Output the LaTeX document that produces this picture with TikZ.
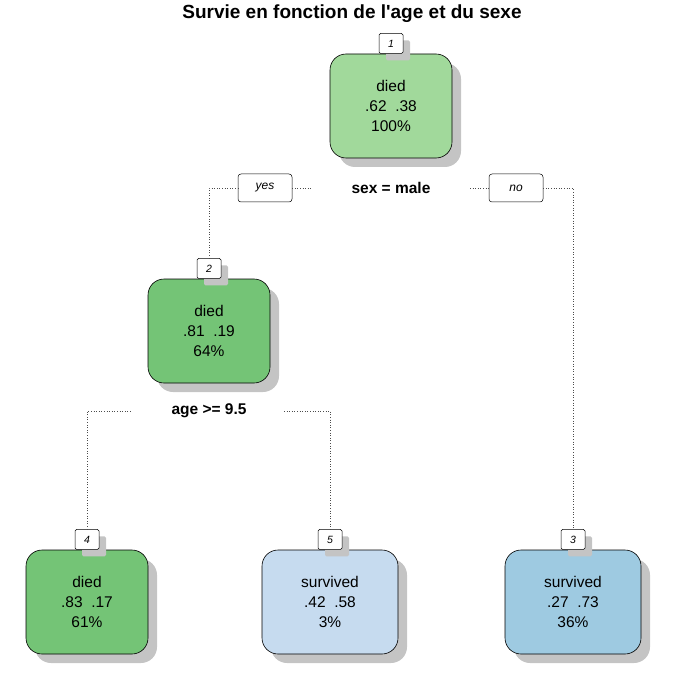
\documentclass[tikz,border=0pt]{standalone}
\usepackage{fontspec}
\setmainfont{Liberation Sans}
\usetikzlibrary{shadows}

\definecolor{gLight}{HTML}{A1D99B}
\definecolor{gDark}{HTML}{74C476}
\definecolor{bLight}{HTML}{C6DBEF}
\definecolor{bMid}{HTML}{9ECAE1}

\tikzset{
  leaf/.style={draw, line width=0.6pt, rounded corners=16pt, minimum width=122pt,
    minimum height=104pt, align=center, font=\fontsize{15.5}{20}\selectfont,
    drop shadow={shadow xshift=9pt, shadow yshift=-9pt, fill=black!23, opacity=1}},
  numbox/.style={draw, fill=white, line width=0.5pt, rounded corners=1.5pt, minimum width=24pt,
    minimum height=20pt, inner sep=0pt, font=\fontsize{10.5}{11}\selectfont\itshape,
    drop shadow={shadow xshift=7pt, shadow yshift=-7pt, fill=black!23, opacity=1}},
  ansbox/.style={draw, fill=white, line width=0.5pt, rounded corners=3pt, minimum width=54pt,
    minimum height=28pt, inner sep=0pt, font=\fontsize{12}{13}\selectfont\itshape},
  split/.style={font=\fontsize{15.5}{17}\selectfont\bfseries},
  branch/.style={draw=black!70, line width=0.6pt, dotted}
}

\begin{document}
\begin{tikzpicture}[x=1pt, y=-1pt]
  \useasboundingbox (0,0) rectangle (674,676);

  % titre
  \node[font=\fontsize{19}{21}\selectfont\bfseries] (titre) at (352,14) {Survie en fonction de l\textquotesingle age et du sexe};

  % noeuds
  \node[leaf, fill=gLight] (n1) at (391,106) {died\\.62\ \ .38\\100\%};
  \node[leaf, fill=gDark] (n2) at (209,331) {died\\.81\ \ .19\\64\%};
  \node[leaf, fill=gDark] (n4) at (87,602) {died\\.83\ \ .17\\61\%};
  \node[leaf, fill=bLight, minimum width=136pt] (n5) at (330,602) {survived\\.42\ \ .58\\3\%};
  \node[leaf, fill=bMid, minimum width=136pt] (n3) at (573,602) {survived\\.27\ \ .73\\36\%};

  % numeros
  \node[numbox, anchor=south] (l1) at (n1.north) {1};
  \node[numbox, anchor=south] (l2) at (n2.north) {2};
  \node[numbox, anchor=south] (l4) at (n4.north) {4};
  \node[numbox, anchor=south] (l5) at (n5.north) {5};
  \node[numbox, anchor=south] (l3) at (n3.north) {3};

  % separations
  \node[split] (s1) at (391,188) {sex = male};
  \node[split] (s2) at (209,411) {age >= 9.5};
  \node[ansbox] (yes) at (265,188) {yes};
  \node[ansbox] (no) at (516,188) {no};

  % branches
  \coordinate (y1) at (312,188);
  \coordinate (o1) at (470,188);
  \coordinate (a1) at (132,411);
  \coordinate (a2) at (284,411);
  \draw[branch] (l2.north) |- (yes.west);
  \draw[branch] (yes.east) -- (y1);
  \draw[branch] (o1) -- (no.west);
  \draw[branch] (no.east) -| (l3.north);
  \draw[branch] (l4.north) |- (a1);
  \draw[branch] (a2) -| (l5.north);
\end{tikzpicture}
\end{document}
